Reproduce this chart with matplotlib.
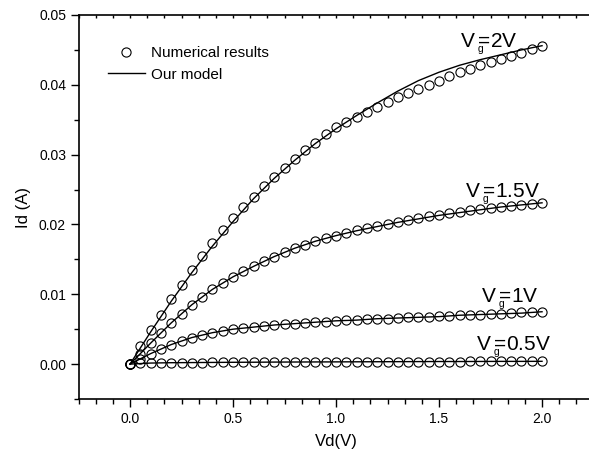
import matplotlib
matplotlib.use('Agg')
import matplotlib.pyplot as plt
import numpy as np
from matplotlib.ticker import MultipleLocator

plt.rcParams['font.family'] = ['Liberation Sans', 'DejaVu Sans']
plt.rcParams['mathtext.fontset'] = 'custom'
plt.rcParams['mathtext.rm'] = 'Liberation Sans'
plt.rcParams['mathtext.it'] = 'Liberation Sans'

# numerical results (circles), Vd step 0.05
vd = [0.00, 0.05, 0.10, 0.15, 0.20, 0.25, 0.30, 0.35, 0.40, 0.45,
      0.50, 0.55, 0.60, 0.65, 0.70, 0.75, 0.80, 0.85, 0.90, 0.95,
      1.00, 1.05, 1.10, 1.15, 1.20, 1.25, 1.30, 1.35, 1.40, 1.45,
      1.50, 1.55, 1.60, 1.65, 1.70, 1.75, 1.80, 1.85, 1.90, 1.95, 2.00]

num_vg2 = [0, 0.0026, 0.0049, 0.0071, 0.0093, 0.0114, 0.0135, 0.0155, 0.0174, 0.0192,
           0.0209, 0.0225, 0.0240, 0.0255, 0.0268, 0.0281, 0.0294, 0.0306, 0.0317, 0.0329,
           0.0339, 0.0347, 0.0354, 0.0361, 0.0368, 0.0375, 0.0382, 0.0388, 0.0394, 0.0400,
           0.0406, 0.0412, 0.0418, 0.0423, 0.0428, 0.0433, 0.0437, 0.0441, 0.0446, 0.0451, 0.0455]
num_vg15 = [0, 0.0015, 0.0030, 0.0045, 0.0059, 0.0072, 0.0085, 0.0096, 0.0107, 0.0116,
            0.0125, 0.0133, 0.0140, 0.0148, 0.0154, 0.0160, 0.0166, 0.0171, 0.0176, 0.0180,
            0.0184, 0.0188, 0.0192, 0.0195, 0.0198, 0.0201, 0.0204, 0.0207, 0.0209, 0.0212,
            0.0214, 0.0216, 0.0218, 0.0220, 0.0222, 0.0223, 0.0225, 0.0226, 0.0228, 0.0229, 0.0231]
num_vg1 = [0, 0.0008, 0.0015, 0.0021, 0.0028, 0.0033, 0.0038, 0.0041, 0.0045, 0.0047,
           0.0050, 0.0052, 0.0053, 0.0055, 0.0056, 0.0057, 0.0058, 0.0059, 0.0060, 0.0061,
           0.0062, 0.0063, 0.0063, 0.0064, 0.0065, 0.0065, 0.0066, 0.0067, 0.0067, 0.0068,
           0.0069, 0.0069, 0.0070, 0.0071, 0.0071, 0.0072, 0.0072, 0.0073, 0.0074, 0.0074, 0.0075]
num_vg05 = [0, 0.0001, 0.00015, 0.00018, 0.0002, 0.00021, 0.00022, 0.00023, 0.00024, 0.00025,
            0.00026, 0.00027, 0.00027, 0.00028, 0.00029, 0.0003, 0.0003, 0.00031, 0.00031, 0.00032,
            0.00032, 0.00033, 0.00033, 0.00034, 0.00034, 0.00035, 0.00035, 0.00035, 0.00036, 0.00036,
            0.00037, 0.00037, 0.00037, 0.00038, 0.00038, 0.00038, 0.00039, 0.00039, 0.00039, 0.0004, 0.0004]

# model curves, Vd step 0.1
vd_model = [0.0, 0.1, 0.2, 0.3, 0.4, 0.5, 0.6, 0.7, 0.8, 0.9, 1.0,
            1.1, 1.2, 1.3, 1.4, 1.5, 1.6, 1.7, 1.8, 1.9, 2.0]
mod_vg2 = [0, 0.0046, 0.0090, 0.0131, 0.0169, 0.0204, 0.0237, 0.0266, 0.0292, 0.0316, 0.0337,
           0.0356, 0.0374, 0.0391, 0.0406, 0.0418, 0.0428, 0.0436, 0.0443, 0.0450, 0.0456]
mod_vg15 = [0, 0.0030, 0.0059, 0.0085, 0.0107, 0.0125, 0.0140, 0.0154, 0.0166, 0.0176, 0.0184,
            0.0191, 0.0197, 0.0203, 0.0208, 0.0213, 0.0217, 0.0221, 0.0225, 0.0228, 0.0231]
mod_vg1 = [0, 0.0015, 0.0028, 0.0038, 0.0045, 0.0050, 0.0053, 0.0056, 0.0058, 0.0060, 0.0062,
           0.0063, 0.0065, 0.0066, 0.0067, 0.0068, 0.0070, 0.0071, 0.0072, 0.0073, 0.0075]
mod_vg05 = [0, 0.00015, 0.0002, 0.00022, 0.00024, 0.00026, 0.00027, 0.00029, 0.0003, 0.00031, 0.00032,
            0.00033, 0.00034, 0.00035, 0.00036, 0.00037, 0.00037, 0.00038, 0.00039, 0.00039, 0.0004]

# curve labels: (text, x, y)
curve_labels = [('2V', 1.602, 0.0453),
                ('1.5V', 1.626, 0.0239),
                ('1V', 1.702, 0.0089),
                ('0.5V', 1.680, 0.0020)]

fig = plt.figure(figsize=(5.89, 4.54), dpi=100)
ax = fig.add_axes([0.1333, 0.1211, 0.8744, 0.8459])

mk = dict(marker='o', linestyle='None', mfc='none', mec='black', ms=6.6, mew=0.8)
h_num = None
for y in [num_vg2, num_vg15, num_vg1, num_vg05]:
    h_num, = ax.plot(vd, y, **mk)
h_mod = None
for y in [mod_vg2, mod_vg15, mod_vg1, mod_vg05]:
    h_mod, = ax.plot(vd_model, y, color='black', lw=1.0)

# "V_g=..." with a small, low subscript, Origin style
for txt, x, y in curve_labels:
    ax.text(x, y, r'V$\,_{_{\mathrm{g}}}\!\!$=' + txt, fontsize=15, ha='left', va='baseline')

ax.set_xlim(-0.25, 2.25)
ax.set_ylim(-0.005, 0.05)
ax.xaxis.set_major_locator(MultipleLocator(0.5))
ax.xaxis.set_minor_locator(MultipleLocator(0.5 / 6))
ax.yaxis.set_major_locator(MultipleLocator(0.01))
ax.yaxis.set_minor_locator(MultipleLocator(0.005))
ax.yaxis.set_major_formatter(matplotlib.ticker.FormatStrFormatter('%.2f'))
ax.xaxis.set_major_formatter(matplotlib.ticker.FormatStrFormatter('%.1f'))

ax.tick_params(which='both', direction='out', labelsize=10, width=1)
ax.tick_params(which='major', length=6, pad=3)
ax.tick_params(which='minor', length=3.5)
for sp in ax.spines.values():
    sp.set_linewidth(1.2)

# small inward ticks along the top spine
ax.tick_params(axis='x', which='both', top=True)
for t in ax.xaxis.get_major_ticks() + ax.xaxis.get_minor_ticks():
    t.tick2line.set_marker(3)
    t.tick2line.set_markersize(2.5)

ax.set_xlabel('Vd(V)', fontsize=12, labelpad=6)
ax.set_ylabel('Id (A)', fontsize=12, labelpad=6)

ax.legend([h_num, h_mod], ['Numerical results', 'Our model'],
          loc='upper left', bbox_to_anchor=(108 / 589, 1 - 46 / 454),
          bbox_transform=fig.transFigure, frameon=False, fontsize=11,
          handlelength=2.4, handletextpad=0.4, borderpad=0, borderaxespad=0,
          labelspacing=0.5)

fig.savefig('out.png', dpi=100)
